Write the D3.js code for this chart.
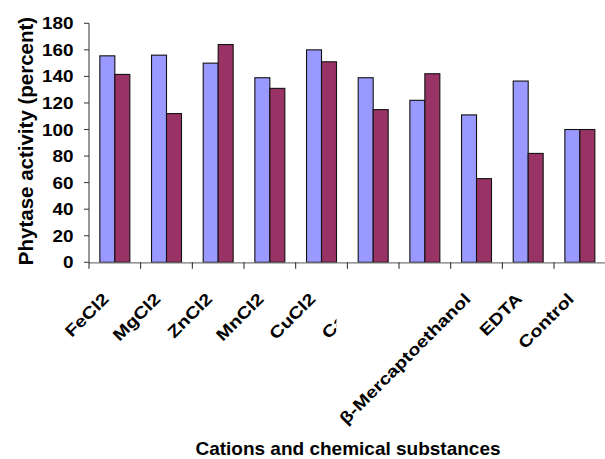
<!DOCTYPE html>
<html><head><meta charset="utf-8">
<script src="https://cdn.jsdelivr.net/npm/d3@7"></script>
<style>
html,body{margin:0;padding:0;background:#fff;}
svg{display:block;}
text{font-family:"Liberation Sans",Arial,Helvetica,sans-serif;font-weight:bold;fill:#000;}
</style></head>
<body>
<svg id="chart" width="605" height="459"></svg>
<script>
const categories = ["FeCl2","MgCl2","ZnCl2","MnCl2","CuCl2","CaCl2","","β-Mercaptoethanol","EDTA","Control"];
const series1 = [155.5,156,150,139,160,139,122,111,136.5,100];
const series2 = [141.5,112,164,131,151,115,142,63,82,100];
const yTicks = [0,20,40,60,80,100,120,140,160,180];
const yTitle = "Phytase activity (percent)";
const xTitle = "Cations and chemical substances";

const svg = d3.select("#chart");
const x0 = 89, yTop = 23.3, yBase = 262.3, step = 51.67;
const x = d3.scaleBand().domain(d3.range(categories.length))
  .range([x0, x0 + step*categories.length]).paddingInner(0.42).paddingOuter(0.21);
const xs = d3.scaleBand().domain([0,1]).range([0, x.bandwidth()]);
const y = d3.scaleLinear().domain([0,180]).range([yBase, yTop]);
const colors = ["#9999FF","#993366"];
const series = [series1, series2];

// bars
series.forEach((s, si) => {
  svg.append("g").selectAll("rect").data(s).join("rect")
    .attr("x", (d,i) => x(i) + xs(si))
    .attr("y", d => y(d))
    .attr("width", xs.bandwidth())
    .attr("height", d => y(0) - y(d))
    .attr("fill", colors[si])
    .attr("stroke", "#111")
    .attr("stroke-width", 1.1);
});

// y axis
const ya = svg.append("g");
ya.append("line").attr("x1", x0).attr("x2", x0).attr("y1", y(180)).attr("y2", y(0))
  .attr("stroke", "#333").attr("stroke-width", 1);
ya.selectAll(".tk").data(yTicks).join("line")
  .attr("x1", x0-5).attr("x2", x0).attr("y1", d => y(d)).attr("y2", d => y(d))
  .attr("stroke", "#333");
ya.selectAll(".lb").data(yTicks).join("text")
  .attr("text-anchor", "end")
  .attr("font-size", 16)
  .attr("transform", d => `translate(73.5,${y(d)+6}) scale(1.18,1)`)
  .text(d => d);

// x axis
const xa = svg.append("g");
xa.append("line").attr("x1", x0).attr("x2", 605).attr("y1", yBase+0.5).attr("y2", yBase+0.5)
  .attr("stroke", "#777").attr("stroke-width", 1.3);
const tickXs = d3.range(categories.length).map(i => x(i) - step*0.21);
xa.selectAll(".tk").data(tickXs).join("line")
  .attr("x1", d => d).attr("x2", d => d).attr("y1", yBase).attr("y2", yBase+6.5)
  .attr("stroke", "#222");

svg.append("defs").append("clipPath").attr("id","clip6")
  .attr("clipPathUnits","userSpaceOnUse")
  .append("rect").attr("x", 0).attr("y", 0).attr("width", 336.5).attr("height", 459);

xa.selectAll(".lbg").data(categories).join("g")
  .attr("clip-path", (d,i) => i === 5 ? "url(#clip6)" : null)
  .append("text")
  .attr("text-anchor", "end")
  .attr("font-size", 16.5)
  .attr("transform", (d,i) => `translate(${x(i) + x.bandwidth()/2 - 5},300) rotate(-45) scale(1.2,1)`)
  .text(d => d);

// titles
svg.append("text").attr("text-anchor","middle").attr("font-size", 20.5)
  .attr("transform", `translate(33,141) rotate(-90)`).text(yTitle);
svg.append("text").attr("text-anchor","middle").attr("font-size", 19)
  .attr("x", 348).attr("y", 455).text(xTitle);
</script>
</body></html>
